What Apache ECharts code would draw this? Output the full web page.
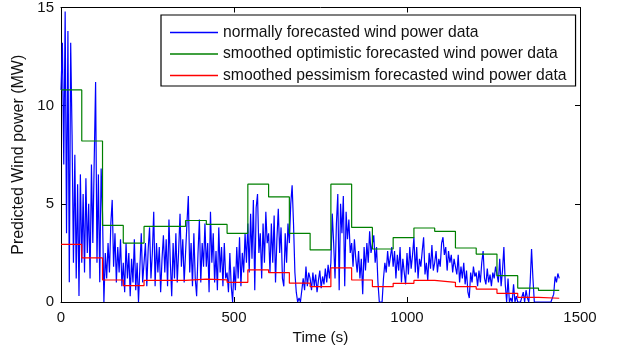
<!DOCTYPE html>
<html>
<head>
<meta charset="utf-8">
<script src="https://cdn.jsdelivr.net/npm/echarts@6/dist/echarts.min.js"></script>
<style>html,body{margin:0;padding:0;background:#fff;}#c{width:618px;height:351px;}</style>
</head>
<body>
<div id="c"></div>
<script>
// Blue: normally forecasted, sampled every 4 s-units (one row = 60 units)
var blueStep = 4;
var blueRows = [
  [10.8, 13.2, 7.0, 14.8, 3.5, 13.8, 1.0, 13.2, 8.5, 2.0, 7.5, 1.2, 6.0, 0.3, 6.5],
  [2.0, 5.5, 1.5, 6.3, 2.5, 5.0, 1.2, 7.0, 3.0, 7.2, 11.2, 2.0, 6.5, 1.0, 6.8],
  [4.5, 0.0, 2.5, 1.2, 3.0, 1.5, 4.0, 5.2, 1.8, 3.5, 1.0, 2.8, 1.5, 3.2, 0.8],
  [2.0, 0.5, 3.0, 1.2, 2.5, 0.3, 2.2, 1.0, 3.2, 0.6, 2.0, 0.0, 1.8, 3.5, 1.0],
  [1.0, 3.0, 0.8, 2.7, 3.8, 1.2, 2.5, 4.6, 0.8, 3.0, 1.5, 2.8, 0.5, 2.2, 3.4],
  [1.5, 3.2, 0.8, 4.2, 2.0, 0.3, 3.0, 1.2, 3.5, 1.0, 2.6, 4.5, 1.8, 3.2, 1.0],
  [2.5, 4.0, 5.4, 1.5, 3.0, 0.8, 3.5, 1.2, 0.3, 2.5, 4.2, 1.0, 3.0, 1.8, 4.0],
  [1.8, 3.0, 0.5, 4.6, 2.0, 3.5, 1.0, 2.6, 0.6, 3.8, 1.5, 2.8, 0.8, 3.0, 1.2],
  [1.5, 0.5, 2.5, 0.8, 0.0, 1.8, 0.6, 2.8, 1.2, 3.3, 0.8, 2.5, 1.5, 3.5, 2.0],
  [4.0, 1.5, 4.5, 2.2, 5.2, 0.6, 4.8, 5.5, 2.5, 3.5, 1.2, 4.0, 2.0, 4.6, 3.0],
  [3.5, 1.5, 4.0, 2.0, 4.4, 1.0, 3.2, 4.75, 2.5, 3.8, 1.2, 0.8, 3.5, 2.0, 4.0],
  [3.0, 5.0, 5.95, 4.0, 1.5, 0.5, 0.0, 0.2, 0.0, 0.1, 1.2, 0.6, 1.8, 0.8, 1.5],
  [1.2, 0.6, 1.5, 0.8, 1.4, 0.5, 1.1, 1.6, 0.7, 1.3, 0.9, 1.7, 1.0, 1.9, 1.2],
  [2.0, 4.5, 3.0, 1.2, 4.0, 5.5, 0.6, 5.0, 3.5, 5.4, 0.8, 4.6, 3.2, 4.2, 2.5],
  [3.0, 1.8, 3.2, 2.2, 1.5, 2.6, 1.2, 2.2, 0.4, 2.8, 1.6, 3.0, 2.0, 3.6, 2.5],
  [2.5, 3.4, 2.0, 2.8, 1.0, 0.0, 0.1, 0.0, 1.2, 2.0, 1.5, 2.6, 1.8, 2.3, 2.8],
  [1.8, 2.6, 1.2, 2.4, 1.6, 2.8, 1.0, 2.2, 1.5, 0.9, 2.5, 1.4, 2.8, 1.7, 2.4],
  [3.3, 1.5, 2.8, 1.2, 2.2, 1.8, 2.6, 3.3, 1.4, 2.0, 1.1, 2.5, 1.7, 2.9, 1.6],
  [2.0, 2.6, 1.5, 2.2, 1.8, 3.0, 3.3, 2.4, 2.8, 1.6, 2.6, 2.0, 2.4, 1.5, 2.2],
  [2.2, 1.4, 2.4, 1.0, 1.8, 1.2, 2.0, 0.9, 1.6, 0.5, 0.2, 1.5, 1.0, 1.8, 1.3],
  [1.5, 0.8, 1.6, 1.0, 2.0, 2.6, 1.2, 0.9, 1.7, 1.0, 1.4, 0.8, 1.5, 1.2, 1.8],
  [1.8, 1.0, 2.2, 0.8, 1.6, 2.8, 0.9, 0.0, 1.2, 0.0, 0.2, 0.0, 0.9, 0.0, 0.3],
  [0.0, 0.0, 0.0, 0.0, 0.5, 0.0, 0.6, 0.2, 0.0, 1.0, 2.7, 1.2, 0.0, 0.0, 0.0],
  [0.0, 0.0, 0.0, 0.0, 0.0, 0.0, 0.0, 0.0, 0.0, 0.0, 0.0, 0.4, 1.3, 1.0, 1.45]
];
var blueLast = [1440, 1.2];

// Hourly smoothed levels (each held for 60 units)
var stepLen = 60;
var greenLevels = [10.8, 8.2, 3.9, 3.0, 3.85, 3.85, 4.15, 3.95, 3.5, 6.0, 5.35, 3.5,
                   2.65, 6.0, 3.8, 2.7, 3.28, 3.77, 3.6, 2.75, 2.44, 1.34, 0.71, 0.59];
var redLevels = [2.93, 2.25, 1.12, 0.83, 1.1, 1.1, 1.17, 1.13, 1.0, 1.64, 1.5, 0.96,
                 0.78, 1.74, 1.12, 0.78, 0.95, 1.1, 1.0, 0.78, 0.66, 0.44, 0.24, 0.19];

var xTicks = [0, 500, 1000, 1500];
var yTicks = [0, 5, 10, 15];
var seriesNames = ['normally forecasted wind power data',
                   'smoothed optimistic forecasted wind power data',
                   'smoothed pessimism forecasted wind power data'];

var blueData = [];
var flat = [].concat.apply([], blueRows);
flat.forEach(function (v, i) { blueData.push([i * blueStep, v]); });
blueData.push(blueLast);

function stepData(levels) {
  var d = levels.map(function (v, i) { return [i * stepLen, v]; });
  d.push([levels.length * stepLen, levels[levels.length - 1]]);
  return d;
}

var font = 'Liberation Sans, Arial, sans-serif';
var txt = '#111';
var chart = echarts.init(document.getElementById('c'), null, {renderer: 'canvas'});
var axisCommon = {
  axisLine: {show: true, onZero: false, lineStyle: {color: '#000', width: 1}},
  axisTick: {show: true, inside: true, length: 5, lineStyle: {color: '#000'}},
  splitLine: {show: false}
};
function plain(v) { return String(v); }
chart.setOption({
  backgroundColor: '#fff',
  animation: false,
  grid: {left: 61, right: 38, top: 7, bottom: 49, containLabel: false},
  legend: {
    orient: 'vertical', left: 161, top: 15,
    data: seriesNames,
    icon: 'rect', itemWidth: 48, itemHeight: 1.5, itemGap: 4.5,
    padding: [9, 9, 2, 9],
    borderColor: '#000', borderWidth: 1.2, backgroundColor: '#fff',
    textStyle: {fontFamily: font, fontSize: 15.7, color: txt, lineHeight: 17}
  },
  xAxis: [
    Object.assign({}, axisCommon, {
      type: 'value', min: xTicks[0], max: xTicks[xTicks.length - 1], interval: 500,
      position: 'bottom',
      name: 'Time (s)', nameLocation: 'middle', nameGap: 26,
      nameTextStyle: {fontFamily: font, fontSize: 15.4, color: txt},
      axisLabel: {fontFamily: font, fontSize: 15, color: txt, margin: 8, formatter: plain}
    }),
    Object.assign({}, axisCommon, {
      type: 'value', min: xTicks[0], max: xTicks[xTicks.length - 1], interval: 500,
      position: 'top', axisLabel: {show: false}
    })
  ],
  yAxis: [
    Object.assign({}, axisCommon, {
      type: 'value', min: yTicks[0], max: yTicks[yTicks.length - 1], interval: 5,
      position: 'left',
      name: 'Predicted Wind power (MW)', nameLocation: 'middle', nameGap: 29,
      nameTextStyle: {fontFamily: font, fontSize: 16, color: txt},
      axisLabel: {fontFamily: font, fontSize: 15, color: txt, margin: 7, formatter: plain}
    }),
    Object.assign({}, axisCommon, {
      type: 'value', min: yTicks[0], max: yTicks[yTicks.length - 1], interval: 5,
      position: 'right', axisLabel: {show: false}
    })
  ],
  series: [
    {name: seriesNames[0], type: 'line', data: blueData, symbol: 'none',
     lineStyle: {color: '#0000ff', width: 1.2}, itemStyle: {color: '#0000ff'}, z: 2},
    {name: seriesNames[1], type: 'line', data: stepData(greenLevels), step: 'end', symbol: 'none',
     lineStyle: {color: '#008000', width: 1.2}, itemStyle: {color: '#008000'}, z: 3},
    {name: seriesNames[2], type: 'line', data: stepData(redLevels), step: 'end', symbol: 'none',
     lineStyle: {color: '#ff0000', width: 1.2}, itemStyle: {color: '#ff0000'}, z: 4}
  ]
});
</script>
</body>
</html>
